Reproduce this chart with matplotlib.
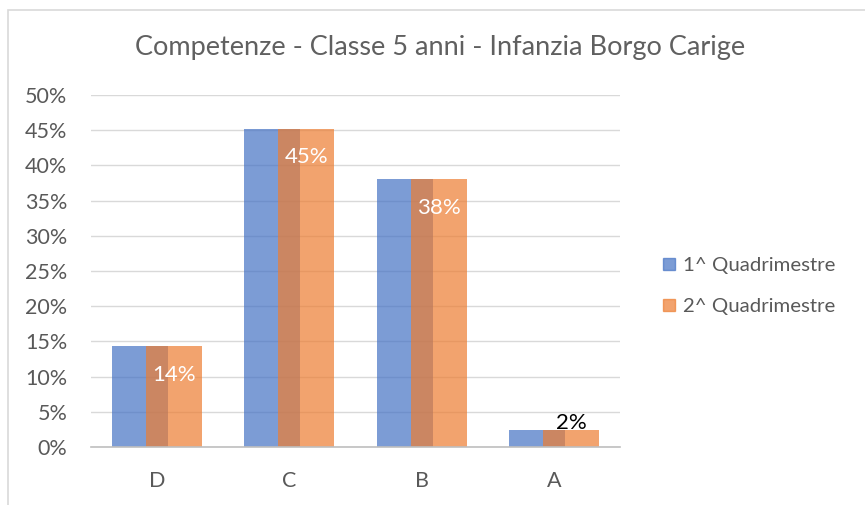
import numpy as np
import matplotlib.pyplot as plt
from matplotlib.patches import Rectangle
from matplotlib.lines import Line2D

# dati
categorie = ['D', 'C', 'B', 'A']
quad1 = [6 / 42, 19 / 42, 16 / 42, 1 / 42]
quad2 = [6 / 42, 19 / 42, 16 / 42, 1 / 42]
serie = ['1^ Quadrimestre', '2^ Quadrimestre']
yticks = np.arange(0, 0.51, 0.05)

plt.rcParams['font.family'] = ['Lato', 'DejaVu Sans']
grigio = '#595959'

fig = plt.figure(figsize=(8.65, 5.05), dpi=100)
ax = fig.add_axes([91 / 865, 1 - 447 / 505, 529 / 865, 352 / 505])

# bordo del grafico
fig.patches.append(Rectangle((8 / 865, -0.1), 1.2, 1 - 10 / 505 + 0.1,
                             transform=fig.transFigure, fill=False,
                             edgecolor='#D9D9D9', linewidth=1.2))

x = np.arange(len(categorie))
w = 0.424
off = 0.129
ax.bar(x - off, quad1, w, color='#4472C4', alpha=0.7, zorder=2)
ax.bar(x + off, quad2, w, color='#ED7D31', alpha=0.7, zorder=3)

# etichette sulla seconda serie
for xi, v in zip(x, quad2):
    pct = f'{round(v * 100):.0f}%'
    if v > 0.05:
        ax.text(xi + off, v - 0.041, pct, ha='center', va='center',
                color='white', fontsize=16, zorder=4)
    else:
        ax.text(xi + off, v + 0.01, pct, ha='center', va='center',
                color='black', fontsize=16, zorder=4)

ax.set_xlim(-0.5, len(categorie) - 0.5)
ax.set_ylim(0, 0.5)
ax.set_yticks(yticks)
ax.set_yticklabels([f'{int(round(t * 100))}%' for t in yticks])
ax.set_xticks(x)
ax.set_xticklabels(categorie)
ax.tick_params(axis='both', length=0, labelsize=15.5, colors=grigio)
ax.tick_params(axis='y', pad=17)
ax.tick_params(axis='x', pad=17)

ax.grid(axis='y', color='#D9D9D9', linewidth=1, zorder=0)
ax.set_axisbelow(True)
for s in ['top', 'right', 'left']:
    ax.spines[s].set_visible(False)
ax.spines['bottom'].set_color('#BFBFBF')
ax.spines['bottom'].set_linewidth(1.2)
ax.spines['bottom'].set_zorder(5)

fig.text(440 / 865, 1 - 47 / 505, 'Competenze - Classe 5 anni - Infanzia Borgo Carige',
         ha='center', va='center', fontsize=19.5, color='#606060')

handles = [Line2D([], [], marker='s', linestyle='none', markersize=8.5,
                  markerfacecolor=c, markeredgecolor=c, alpha=0.7)
           for c in ['#4472C4', '#ED7D31']]
fig.legend(handles, serie, loc='center left', bbox_to_anchor=(640 / 865, 1 - 286 / 505),
           frameon=False, fontsize=14.7, labelcolor=grigio, handletextpad=0.2,
           labelspacing=1.15, handlelength=1.0)

fig.savefig('out.png', dpi=100)
